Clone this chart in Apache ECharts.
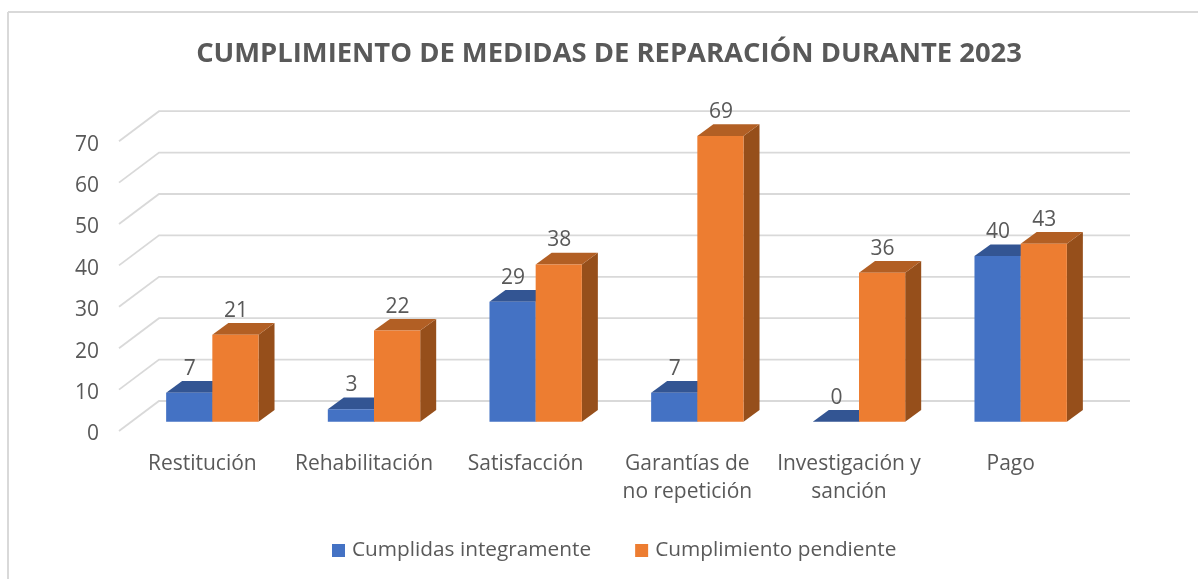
<!DOCTYPE html>
<html>
<head>
<meta charset="utf-8">
<style>html,body{margin:0;padding:0;background:#fff}#c{width:1198px;height:579px}</style>
<script src="https://cdn.jsdelivr.net/npm/echarts@6/dist/echarts.min.js"></script>
</head>
<body>
<div id="c"></div>
<script>
const titleText = 'CUMPLIMIENTO DE MEDIDAS DE REPARACIÓN DURANTE 2023';
const categories = ['Restitución', 'Rehabilitación', 'Satisfacción', 'Garantías de\nno repetición', 'Investigación y\nsanción', 'Pago'];
const cumplidas = [7, 3, 29, 7, 0, 40];
const pendiente = [21, 22, 38, 69, 36, 43];
const ticks = [0, 10, 20, 30, 40, 50, 60, 70];
const FONT = '"Open Sans", sans-serif';
const TEXT = '#595959';
const GRID = '#D9D9D9';
const WALL = {dx: 40, dy: -30};
const BAR_FRONT = {dx: 12.5, dy: -9.3};
const BAR_DEPTH = {dx: 16, dy: -11.7};

const chart = echarts.init(document.getElementById('c'), null, {renderer: 'canvas'});

function barRender(slot, front, top, side) {
  return function (params, api) {
    const base = api.coord([api.value(0), 0]);
    const head = api.coord([api.value(0), api.value(1)]);
    const w = api.size([1, 0])[0] * 2 / 7;
    const xl = base[0] + BAR_FRONT.dx + slot * w;
    const xr = xl + w;
    const yb = base[1] + BAR_FRONT.dy;
    const yt = head[1] + BAR_FRONT.dy;
    const d = BAR_DEPTH;
    return {
      type: 'group',
      children: [
        {type: 'polygon', shape: {points: [[xr, yt], [xr + d.dx, yt + d.dy], [xr + d.dx, yb + d.dy], [xr, yb]]}, style: {fill: side}},
        {type: 'polygon', shape: {points: [[xl, yt], [xl + d.dx, yt + d.dy], [xr + d.dx, yt + d.dy], [xr, yt]]}, style: {fill: top}},
        {type: 'rect', shape: {x: xl, y: yt, width: w, height: yb - yt}, style: {fill: front}},
        {type: 'text', style: {x: xl + w / 2 + 0.5, y: yt - 24, text: String(api.value(1)), fill: TEXT, font: '21px ' + FONT, align: 'center', verticalAlign: 'middle'}, z2: 10}
      ]
    };
  };
}

chart.setOption({
  animation: false,
  backgroundColor: '#fff',
  title: {
    text: titleText,
    left: 604, top: 36, textAlign: 'center',
    textStyle: {color: TEXT, fontFamily: FONT, fontWeight: 'bold', fontSize: 27.4}
  },
  legend: {
    data: ['Cumplidas integramente', 'Cumplimiento pendiente'],
    left: 327, top: 535,
    icon: 'rect', itemWidth: 13, itemHeight: 13, itemGap: 44,
    textStyle: {color: TEXT, fontFamily: FONT, fontSize: 20.8, padding: [0, 0, 0, 2]}
  },
  grid: {left: 119, top: 141.2, width: 970, height: 289.8},
  xAxis: {
    type: 'category', data: categories,
    axisLine: {show: false}, axisTick: {show: false},
    axisLabel: {color: TEXT, fontFamily: FONT, fontSize: 21, margin: 19, lineHeight: 28, interval: 0, padding: [0, 0, 0, 5]}
  },
  yAxis: {
    type: 'value', min: 0, max: 70, interval: 10,
    axisLine: {show: false}, axisTick: {show: false}, splitLine: {show: false},
    axisLabel: {
      margin: 20,
      formatter: '{t|{value}}',
      rich: {t: {color: TEXT, fontFamily: FONT, fontSize: 21, padding: [7, 0, 0, 0]}}
    }
  },
  series: [
    {type: 'custom', name: 'walls', clip: false, silent: true, data: ticks.map(t => [t]),
     encode: {y: 0}, renderItem: function (params, api) {
       const p = api.coord([0, api.value(0)]);
       const band = api.size([1, 0])[0];
       const x0 = p[0] - band / 2, y0 = p[1];
       const x1 = x0 + band * categories.length + WALL.dx + 1;
       return {type: 'polyline', shape: {points: [[x0, y0], [x0 + WALL.dx, y0 + WALL.dy], [x1, y0 + WALL.dy]]},
               style: {stroke: GRID, lineWidth: 1.8, fill: null}};
     }},
    {type: 'custom', name: 'Cumplidas integramente', clip: false, itemStyle: {color: '#4472C4'},
     data: cumplidas.map((v, i) => [i, v]), encode: {x: 0, y: 1},
     renderItem: barRender(-1, '#4472C4', '#335593', '#264478')},
    {type: 'custom', name: 'Cumplimiento pendiente', clip: false, itemStyle: {color: '#ED7D31'},
     data: pendiente.map((v, i) => [i, v]), encode: {x: 0, y: 1},
     renderItem: barRender(0, '#ED7D31', '#B25F24', '#964F1B')}
  ],
  graphic: [
    {type: 'line', shape: {x1: 8, y1: 12, x2: 1198, y2: 12}, style: {stroke: GRID, lineWidth: 2}, silent: true},
    {type: 'line', shape: {x1: 8, y1: 12, x2: 8, y2: 579}, style: {stroke: GRID, lineWidth: 2}, silent: true}
  ]
});
</script>
</body>
</html>
